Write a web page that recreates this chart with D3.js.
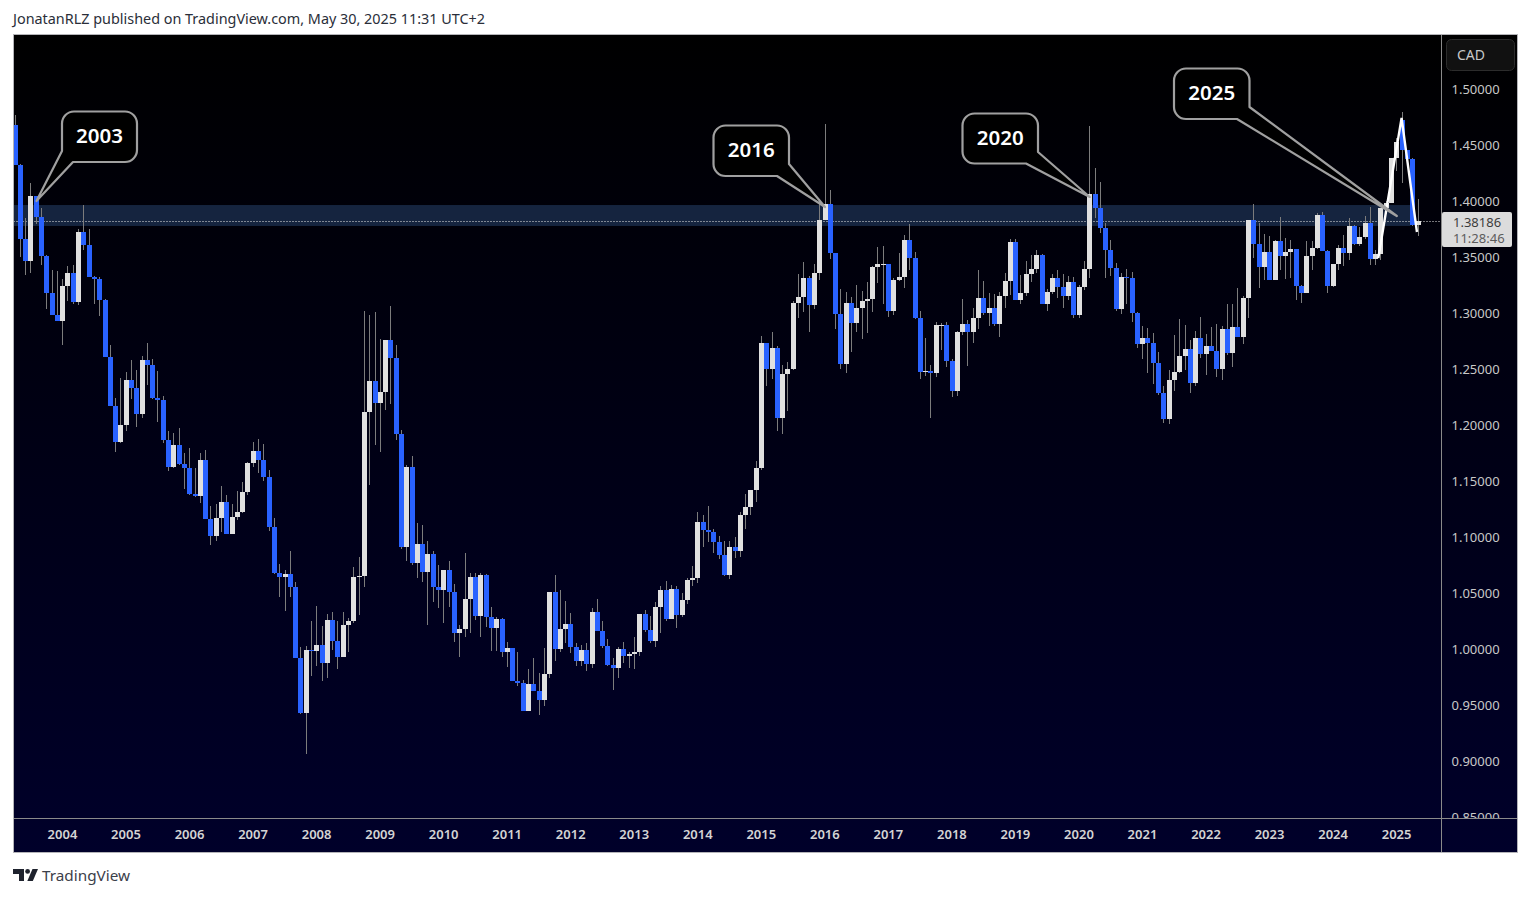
<!DOCTYPE html>
<html>
<head>
<meta charset="utf-8">
<title>USDCAD monthly</title>
<script src="https://cdnjs.cloudflare.com/ajax/libs/d3/7.8.5/d3.min.js"></script>
<style>
  html, body { margin: 0; padding: 0; background: #fff; }
  svg { display: block; }
  text { font-family: "Noto Sans", sans-serif; }
</style>
</head>
<body>
<svg></svg>
<script>
  // monthly bars from Apr 2003 to May 2025
  var startYear = 2003;
  var startMonth = 3;
  var firstOpen = 1.4679;
  // only bar whose open is not the previous close
  var openGaps = { 262: 1.4723 };

  var closes = [
    1.4321,1.3661,1.3464,1.4045,1.3857,1.3509,1.3179,1.2982,1.2929,1.3241,1.3357,1.3098,1.3723,1.3607,1.3321,1.3304,1.3116,1.2607,1.2173,1.1848,
    1.2000,1.2402,1.2330,1.2098,1.2580,1.2536,1.2241,1.2223,1.1866,1.1625,1.1821,1.1652,1.1616,1.1384,1.1366,1.1688,1.1160,1.1009,1.1170,1.1313,
    1.1027,1.1179,1.1223,1.1402,1.1661,1.1768,1.1688,1.1536,1.1089,1.0679,1.0643,1.0670,1.0554,0.9920,0.9429,0.9991,0.9982,1.0036,0.9875,1.0259,
    1.0071,0.9929,1.0214,1.0250,1.0643,1.0652,1.2116,1.2393,1.2196,1.2295,1.2759,1.2598,1.1920,1.0911,1.1625,1.0768,1.0938,1.0688,1.0848,1.0554,
    1.0527,1.0705,1.0509,1.0143,1.0179,1.0446,1.0643,1.0295,1.0661,1.0286,1.0188,1.0268,0.9973,1.0009,0.9714,0.9696,0.9446,0.9688,0.9625,0.9545,
    0.9777,1.0509,1.0000,1.0179,1.0223,1.0018,0.9893,0.9991,0.9866,1.0330,1.0161,1.0027,0.9857,0.9830,1.0000,0.9938,0.9955,0.9973,1.0313,1.0170,
    1.0071,1.0375,1.0527,1.0268,1.0536,1.0304,1.0438,1.0616,1.0634,1.1134,1.1063,1.1045,1.0955,1.0839,1.0661,1.0911,1.0875,1.1196,1.1268,1.1420,
    1.1616,1.2732,1.2500,1.2688,1.2063,1.2455,1.2500,1.3089,1.3143,1.3313,1.3071,1.3357,1.3830,1.3973,1.3536,1.2991,1.2545,1.3089,1.2911,1.3045,
    1.3107,1.3125,1.3411,1.3438,1.3438,1.3018,1.3295,1.3321,1.3652,1.3491,1.2955,1.2473,1.2482,1.2464,1.2893,1.2893,1.2571,1.2304,1.2830,1.2902,
    1.2830,1.2955,1.3134,1.3000,1.3045,1.2902,1.3152,1.3286,1.3634,1.3116,1.3179,1.3348,1.3393,1.3518,1.3080,1.3188,1.3313,1.3232,1.3152,1.3277,
    1.2982,1.3232,1.3393,1.4063,1.3938,1.3759,1.3563,1.3402,1.3036,1.3321,1.3313,1.3000,1.2723,1.2777,1.2732,1.2554,1.2286,1.2054,1.2402,1.2473,
    1.2616,1.2679,1.2375,1.2777,1.2634,1.2705,1.2661,1.2500,1.2857,1.2643,1.2875,1.2786,1.3134,1.3830,1.3616,1.3411,1.3545,1.3295,1.3643,1.3509,
    1.3545,1.3571,1.3241,1.3179,1.3509,1.3580,1.3875,1.3554,1.3241,1.3438,1.3580,1.3536,1.3777,1.3616,1.3679,1.3804,1.3482,1.3527,1.3938,1.3982,
    1.4380,1.4527,1.4455,1.4375,1.3786,1.3819
  ];
  var highs = [
    1.4768,1.4330,1.3848,1.4161,1.4045,1.3938,1.3518,1.3384,1.3375,1.3304,1.3420,1.3429,1.3750,1.3964,1.3750,1.3330,1.3321,1.3125,1.2714,1.2241,
    1.2420,1.2473,1.2580,1.2491,1.2616,1.2732,1.2589,1.2482,1.2259,1.1946,1.1929,1.1973,1.1750,1.1795,1.1616,1.1750,1.1777,1.1277,1.1295,1.1455,
    1.1375,1.1295,1.1411,1.1491,1.1670,1.1848,1.1875,1.1830,1.1598,1.1170,1.0759,1.0705,1.0875,1.0598,1.0018,1.0027,1.0250,1.0384,1.0205,1.0313,
    1.0330,1.0250,1.0330,1.0277,1.0732,1.0821,1.3018,1.2982,1.3009,1.2768,1.2759,1.3063,1.2714,1.1955,1.1643,1.1723,1.1125,1.1107,1.0964,1.0875,
    1.0750,1.0705,1.0786,1.0580,1.0214,1.0857,1.0679,1.0679,1.0679,1.0670,1.0375,1.0286,1.0277,1.0063,1.0009,0.9973,0.9723,0.9821,0.9920,0.9786,
    1.0009,1.0509,1.0661,1.0527,1.0429,1.0321,1.0054,1.0036,1.0054,1.0366,1.0446,1.0250,1.0089,0.9920,1.0018,1.0063,0.9973,1.0107,1.0313,1.0348,
    1.0295,1.0420,1.0563,1.0607,1.0571,1.0563,1.0500,1.0634,1.0741,1.1223,1.1196,1.1277,1.1071,1.1009,1.0964,1.0964,1.1000,1.1223,1.1384,1.1420,
    1.1679,1.2795,1.2732,1.2830,1.2705,1.2536,1.2563,1.3107,1.3348,1.3455,1.3330,1.3438,1.3982,1.4688,1.4098,1.3518,1.3214,1.3188,1.3143,1.3250,
    1.3196,1.3277,1.3420,1.3589,1.3598,1.3438,1.3313,1.3536,1.3696,1.3795,1.3545,1.3018,1.2777,1.2536,1.2920,1.2911,1.2920,1.2589,1.2839,1.3125,
    1.2938,1.3045,1.3384,1.3286,1.3179,1.3170,1.3188,1.3357,1.3661,1.3661,1.3339,1.3464,1.3518,1.3563,1.3527,1.3214,1.3348,1.3384,1.3348,1.3330,
    1.3321,1.3250,1.3464,1.4670,1.4295,1.4170,1.3804,1.3652,1.3446,1.3357,1.3393,1.3366,1.3009,1.2884,1.2866,1.2821,1.2652,1.2348,1.2491,1.2804,
    1.2946,1.2893,1.2759,1.2839,1.2964,1.2813,1.2875,1.2902,1.2884,1.3080,1.3080,1.3223,1.3152,1.3830,1.3973,1.3804,1.3705,1.3688,1.3652,1.3857,
    1.3670,1.3652,1.3571,1.3250,1.3643,1.3643,1.3893,1.3902,1.3563,1.3438,1.3607,1.3696,1.3848,1.3786,1.3768,1.3866,1.3946,1.3563,1.3938,1.4000,
    1.4384,1.4563,1.4795,1.4446,1.4384,1.4018
  ];
  var lows = [
    1.4321,1.3500,1.3339,1.3357,1.3795,1.3429,1.3036,1.2982,1.2929,1.2714,1.3107,1.3080,1.3071,1.3563,1.3321,1.3080,1.2973,1.2607,1.2170,1.1759,
    1.1839,1.1946,1.2232,1.1982,1.2063,1.2357,1.2232,1.2027,1.1839,1.1589,1.1616,1.1643,1.1429,1.1375,1.1357,1.1304,1.1160,1.0929,1.0964,1.1045,
    1.1027,1.1027,1.1152,1.1214,1.1375,1.1625,1.1571,1.1500,1.1054,1.0670,1.0464,1.0339,1.0464,0.9920,0.9420,0.9063,0.9759,0.9848,0.9714,0.9741,
    0.9991,0.9821,0.9929,0.9973,1.0232,1.0304,1.0554,1.1464,1.1821,1.1759,1.2134,1.2188,1.1866,1.0893,1.0786,1.0750,1.0634,1.0598,1.0214,1.0420,
    1.0366,1.0232,1.0375,1.0063,0.9929,1.0107,1.0143,1.0259,1.0107,1.0196,0.9982,0.9982,0.9929,0.9839,0.9714,0.9670,0.9446,0.9446,0.9625,0.9411,
    0.9491,0.9741,0.9893,0.9973,1.0054,0.9964,0.9848,0.9848,0.9804,0.9830,1.0161,1.0009,0.9848,0.9634,0.9741,0.9875,0.9830,0.9821,0.9938,1.0152,
    1.0054,1.0018,1.0143,1.0250,1.0268,1.0188,1.0286,1.0402,1.0563,1.0589,1.0911,1.0955,1.0857,1.0804,1.0652,1.0625,1.0813,1.0821,1.1071,1.1196,
    1.1313,1.1598,1.2348,1.2411,1.1946,1.1920,1.2125,1.2491,1.2955,1.3009,1.2830,1.3036,1.3295,1.3830,1.3482,1.2857,1.2500,1.2464,1.2652,1.2830,
    1.2768,1.2821,1.3009,1.3268,1.3080,1.2964,1.2982,1.3286,1.3223,1.3384,1.2946,1.2411,1.2438,1.2063,1.2429,1.2670,1.2518,1.2250,1.2259,1.2804,
    1.2527,1.2732,1.2857,1.2982,1.2884,1.2884,1.2786,1.3045,1.3161,1.3116,1.3080,1.3152,1.3277,1.3357,1.3080,1.3018,1.3170,1.3134,1.3045,1.3116,
    1.2955,1.2955,1.3205,1.3313,1.3848,1.3714,1.3313,1.3330,1.3018,1.2991,1.3080,1.2920,1.2688,1.2589,1.2464,1.2366,1.2268,1.2018,1.2009,1.2304,
    1.2464,1.2491,1.2286,1.2348,1.2598,1.2446,1.2661,1.2429,1.2402,1.2625,1.2518,1.2786,1.2723,1.2955,1.3491,1.3223,1.3295,1.3295,1.3295,1.3384,
    1.3304,1.3313,1.3116,1.3089,1.3179,1.3384,1.3571,1.3554,1.3179,1.3232,1.3384,1.3420,1.3473,1.3607,1.3598,1.3661,1.3429,1.3429,1.3473,1.3884,
    1.3982,1.4268,1.4161,1.4375,1.3777,1.3688
  ];

  var priceTicks = [1.5, 1.45, 1.4, 1.35, 1.3, 1.25, 1.2, 1.15, 1.1, 1.05, 1, 0.95, 0.9, 0.85];
  var yearTicks = [2004, 2005, 2006, 2007, 2008, 2009, 2010, 2011, 2012, 2013, 2014, 2015, 2016, 2017, 2018, 2019, 2020, 2021, 2022, 2023, 2024, 2025];

  var zoneTop = 1.3964;
  var zoneBottom = 1.3777;
  var lastPrice = 1.38186;

  // callouts: label, bar the tail points at, price at the tip
  var calloutLabels = ['2003', '2016', '2020', '2025'];
  var calloutBars = [4.05, 153, 203, 261];
  var calloutPrices = [1.4000, 1.3946, 1.4036, 1.3866];

  // hand drawn wedge on top of the last bars
  var wedgeBars = [257.5, 261.9, 264.8];
  var wedgePrices = [1.349, 1.4741, 1.3723];

  var width = 1531;
  var height = 897;
  var frame = { left: 13.5, top: 34.5, right: 1517.5, bottom: 852.5 };
  var axisX = 1441.5;
  var axisY = 818.5;

  var n = closes.length;
  var bars = closes.map(function (c, i) {
    var open = i === 0 ? firstOpen : (openGaps[i] !== undefined ? openGaps[i] : closes[i - 1]);
    return { i: i, open: open, close: c, high: highs[i], low: lows[i] };
  });

  var x = d3.scaleLinear().domain([0, n - 1]).range([15, 1418]);
  var y = d3.scaleLinear().domain([0.85, 1.5]).range([817, 89]);

  var svg = d3.select('svg')
    .attr('width', width)
    .attr('height', height)
    .attr('viewBox', '0 0 ' + width + ' ' + height);

  var defs = svg.append('defs');
  var grad = defs.append('linearGradient')
    .attr('id', 'bg')
    .attr('x1', 0).attr('y1', 0).attr('x2', 0).attr('y2', 1);
  grad.append('stop').attr('offset', '0%').attr('stop-color', '#000000');
  grad.append('stop').attr('offset', '100%').attr('stop-color', '#00002a');

  defs.append('clipPath').attr('id', 'plotClip').append('rect')
    .attr('x', frame.left).attr('y', frame.top)
    .attr('width', axisX - frame.left).attr('height', axisY - frame.top);
  defs.append('clipPath').attr('id', 'priceClip').append('rect')
    .attr('x', axisX).attr('y', frame.top)
    .attr('width', frame.right - axisX).attr('height', axisY - frame.top);

  svg.append('rect')
    .attr('x', frame.left).attr('y', frame.top)
    .attr('width', frame.right - frame.left).attr('height', frame.bottom - frame.top)
    .attr('fill', 'url(#bg)');

  // header
  svg.append('text')
    .attr('x', 13).attr('y', 24)
    .attr('font-size', 14.4)
    .attr('fill', '#2a2e39')
    .text('JonatanRLZ published on TradingView.com, May 30, 2025 11:31 UTC+2');

  var plot = svg.append('g').attr('clip-path', 'url(#plotClip)');

  // zone
  plot.append('rect')
    .attr('x', frame.left)
    .attr('y', y(zoneTop))
    .attr('width', x(n - 3) + 3 - frame.left)
    .attr('height', y(zoneBottom) - y(zoneTop))
    .attr('fill', '#15243f');

  // last price line
  plot.append('line')
    .attr('x1', frame.left).attr('x2', axisX)
    .attr('y1', Math.round(y(lastPrice)) + 0.5).attr('y2', Math.round(y(lastPrice)) + 0.5)
    .attr('stroke', '#e8e8e8')
    .attr('stroke-dasharray', '1 2');

  // wicks
  plot.selectAll('rect.wick')
    .data(bars)
    .enter()
    .append('rect')
    .attr('class', 'wick')
    .attr('x', function (d) { return Math.round(x(d.i) - 2.5) + 2; })
    .attr('y', function (d) { return Math.round(y(d.high)); })
    .attr('width', 1)
    .attr('height', function (d) { return Math.max(1, Math.round(y(d.low)) - Math.round(y(d.high))); })
    .attr('fill', '#7c7c7c');

  // bodies
  plot.selectAll('rect.body')
    .data(bars)
    .enter()
    .append('rect')
    .attr('class', 'body')
    .attr('x', function (d) { return Math.round(x(d.i) - 2.5); })
    .attr('y', function (d) { return Math.round(y(Math.max(d.open, d.close))); })
    .attr('width', 5)
    .attr('height', function (d) {
      return Math.max(1, Math.round(y(Math.min(d.open, d.close))) - Math.round(y(Math.max(d.open, d.close))));
    })
    .attr('fill', function (d) { return d.close >= d.open ? '#e0e0e0' : '#2962ff'; });

  // wedge
  var wedgeLine = d3.line()
    .x(function (d) { return x(d); })
    .y(function (d, i) { return y(wedgePrices[i]); });
  plot.append('path')
    .attr('d', wedgeLine(wedgeBars))
    .attr('fill', 'none')
    .attr('stroke', '#ffffff')
    .attr('stroke-width', 2.4)
    .attr('stroke-linejoin', 'miter');

  // callouts
  var boxes = [
    { x: 62, y: 111.5, w: 75, h: 50.5, tailA: [62, 151], tailB: [73, 162], side: 'left' },
    { x: 713.5, y: 125.5, w: 75.5, h: 50.5, tailA: [789, 164], tailB: [777, 176], side: 'right' },
    { x: 962.5, y: 113.5, w: 75.5, h: 50, tailA: [1038, 152], tailB: [1026, 163.5], side: 'right' },
    { x: 1174, y: 68.5, w: 75.5, h: 50.5, tailA: [1249.5, 107], tailB: [1237, 119], side: 'right' }
  ];

  function calloutPath(b, tip) {
    var r = 12;
    var x0 = b.x, y0 = b.y, x1 = b.x + b.w, y1 = b.y + b.h;
    var p = d3.path();
    p.moveTo(x0 + r, y0);
    p.lineTo(x1 - r, y0);
    p.arcTo(x1, y0, x1, y0 + r, r);
    if (b.side === 'right') {
      p.lineTo(b.tailA[0], b.tailA[1]);
      p.lineTo(tip[0], tip[1]);
      p.lineTo(b.tailB[0], b.tailB[1]);
    } else {
      p.lineTo(x1, y1 - r);
      p.arcTo(x1, y1, x1 - r, y1, r);
      p.lineTo(b.tailB[0], b.tailB[1]);
      p.lineTo(tip[0], tip[1]);
      p.lineTo(b.tailA[0], b.tailA[1]);
      p.lineTo(x0, y0 + r);
      p.arcTo(x0, y0, x0 + r, y0, r);
      p.closePath();
      return p.toString();
    }
    p.lineTo(x0 + r, y1);
    p.arcTo(x0, y1, x0, y1 - r, r);
    p.lineTo(x0, y0 + r);
    p.arcTo(x0, y0, x0 + r, y0, r);
    p.closePath();
    return p.toString();
  }

  var callouts = svg.append('g');
  calloutLabels.forEach(function (label, i) {
    var b = boxes[i];
    callouts.append('path')
      .attr('d', calloutPath(b, [x(calloutBars[i]), y(calloutPrices[i])]))
      .attr('fill', '#000000')
      .attr('stroke', '#a0a0a0')
      .attr('stroke-width', 2.2)
      .attr('stroke-linejoin', 'round');
    callouts.append('text')
      .attr('x', b.x + b.w / 2)
      .attr('y', b.y + b.h / 2 + 6.5)
      .attr('text-anchor', 'middle')
      .attr('font-size', 20.5)
      .attr('font-weight', 600)
      .attr('fill', '#ffffff')
      .text(label);
  });

  // price axis
  var priceAxis = svg.append('g')
    .attr('clip-path', 'url(#priceClip)')
    .append('g')
    .attr('transform', 'translate(' + axisX + ',0)')
    .call(d3.axisRight(y).tickValues(priceTicks).tickSize(0).tickPadding(10).tickFormat(d3.format('.5f')));
  priceAxis.select('.domain').remove();
  priceAxis.selectAll('text')
    .attr('font-family', '"Noto Sans", sans-serif')
    .attr('font-size', 13)
    .attr('fill', '#c8c8c8');

  // time axis
  var yearIndex = function (yr) { return (yr - startYear) * 12 - startMonth; };
  var timeAxis = svg.append('g')
    .attr('transform', 'translate(-0.7,' + axisY + ')')
    .call(d3.axisBottom(x)
      .tickValues(yearTicks.map(yearIndex))
      .tickSize(0)
      .tickPadding(11)
      .tickFormat(function (d) { return String(d / 12 + startYear + startMonth / 12); }));
  timeAxis.select('.domain').remove();
  timeAxis.selectAll('text')
    .attr('font-family', '"Noto Sans", sans-serif')
    .attr('font-size', 13)
    .attr('font-weight', 600)
    .attr('fill', '#d4d4d4');

  // frame and separators
  svg.append('line')
    .attr('x1', frame.left).attr('x2', frame.right).attr('y1', axisY).attr('y2', axisY)
    .attr('stroke', '#8a8a8a');
  svg.append('line')
    .attr('x1', axisX).attr('x2', axisX).attr('y1', frame.top).attr('y2', frame.bottom)
    .attr('stroke', '#8a8a8a');
  svg.append('rect')
    .attr('x', frame.left).attr('y', frame.top)
    .attr('width', frame.right - frame.left).attr('height', frame.bottom - frame.top)
    .attr('fill', 'none')
    .attr('stroke', '#b4b4b8');

  // currency button
  svg.append('rect')
    .attr('x', 1446.5).attr('y', 39.5).attr('width', 68).attr('height', 31).attr('rx', 5)
    .attr('fill', '#111111').attr('stroke', '#2c2c2c');
  svg.append('text')
    .attr('x', 1457).attr('y', 60)
    .attr('font-size', 14)
    .attr('fill', '#c8c8c8')
    .text('CAD');

  // last price label
  svg.append('rect')
    .attr('x', 1442).attr('y', 212).attr('width', 70).attr('height', 35).attr('rx', 2)
    .attr('fill', '#dcdcdc');
  svg.append('text')
    .attr('x', 1453).attr('y', 227)
    .attr('font-size', 13)
    .attr('fill', '#3c3c3c')
    .text(d3.format('.5f')(lastPrice));
  svg.append('text')
    .attr('x', 1453).attr('y', 243)
    .attr('font-size', 13)
    .attr('fill', '#5c5c5c')
    .text('11:28:46');

  // footer logo
  var logo = svg.append('g').attr('fill', '#1e222d');
  logo.append('path').attr('d', 'M13 869h11v12h-5v-7h-6z');
  logo.append('circle').attr('cx', 27.6).attr('cy', 871.4).attr('r', 2.4);
  logo.append('path').attr('d', 'M32.5 869h5.5l-5.2 12h-5.5z');
  svg.append('text')
    .attr('x', 42).attr('y', 881)
    .attr('font-size', 15.3)
    .attr('fill', '#3c404a')
    .text('TradingView');
</script>
</body>
</html>
